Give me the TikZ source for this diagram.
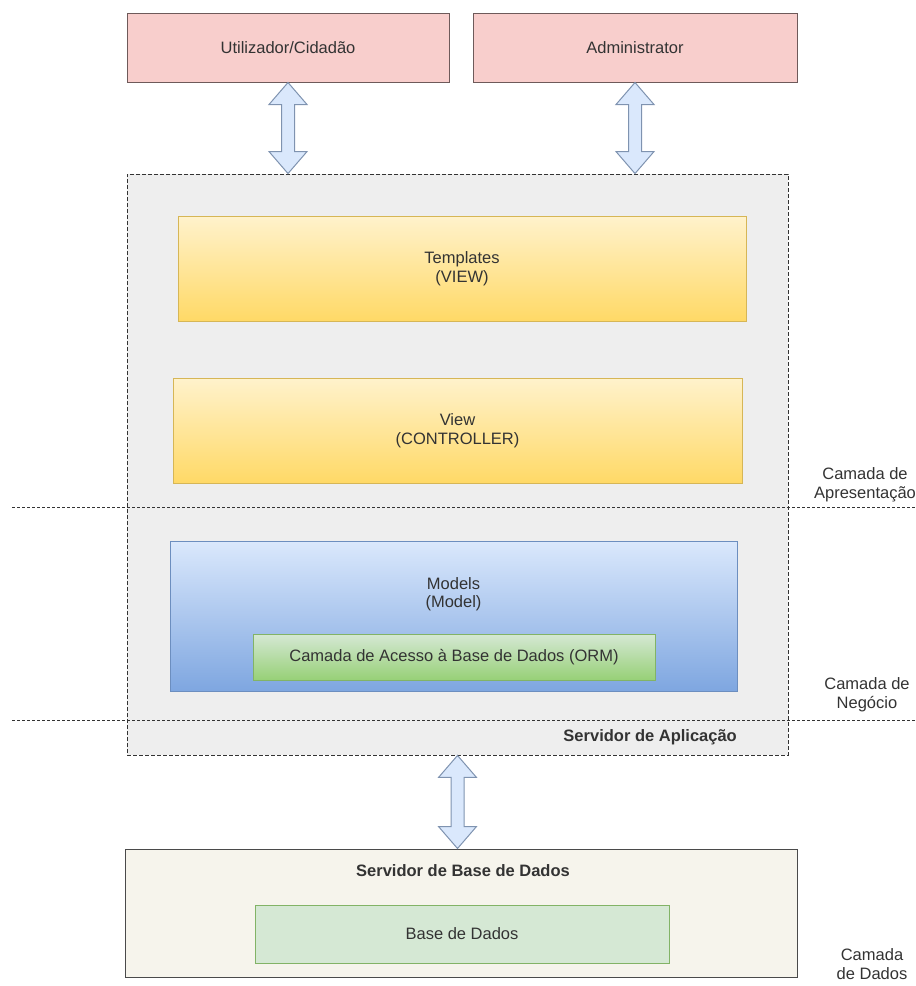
\documentclass[tikz,border=0pt]{standalone}
\usepackage{fontspec}
\setmainfont{Liberation Sans}
\usetikzlibrary{calc}

\definecolor{txt}{HTML}{333333}
\definecolor{pinkfill}{HTML}{F8CECC}
\definecolor{pinkline}{HTML}{6E5A5A}
\definecolor{arrowfill}{HTML}{DAE8FC}
\definecolor{arrowline}{HTML}{7F93B0}
\definecolor{appfill}{HTML}{EEEEEE}
\definecolor{ytop}{HTML}{FFF2CC}
\definecolor{ybot}{HTML}{FFD966}
\definecolor{yline}{HTML}{D6B656}
\definecolor{btop}{HTML}{DAE8FC}
\definecolor{bbot}{HTML}{7EA6E0}
\definecolor{bline}{HTML}{6C8EBF}
\definecolor{gtop}{HTML}{D5E8D4}
\definecolor{gbot}{HTML}{97D077}
\definecolor{gline}{HTML}{82B366}
\definecolor{dbfill}{HTML}{F6F4EC}
\definecolor{dbline}{HTML}{4A4A4A}

% vertical two-headed block arrow between two points on the same vertical
\newcommand\blockarrow[2]{%
  \draw[barrow] (#1) -- ($(#1)+(19,22)$) -- ($(#1)+(6.5,22)$)
    -- ($(#2)+(6.5,-22)$) -- ($(#2)+(19,-22)$) -- (#2)
    -- ($(#2)+(-19,-22)$) -- ($(#2)+(-6.5,-22)$)
    -- ($(#1)+(-6.5,22)$) -- ($(#1)+(-19,22)$) -- cycle;}

\begin{document}
\begin{tikzpicture}[x=1pt,y=-1pt,
  every node/.style={font=\fontsize{16.5}{18.5}\selectfont, text=txt, inner sep=0pt},
  actor/.style={draw=pinkline, fill=pinkfill, line width=1pt, align=center},
  appbox/.style={draw=txt, fill=appfill, line width=0.9pt, dash pattern=on 4pt off 2pt},
  yellowbox/.style={draw=yline, top color=ytop, bottom color=ybot, line width=1pt, align=center},
  bluebox/.style={draw=bline, top color=btop, bottom color=bbot, line width=1pt},
  greenbox/.style={draw=gline, top color=gtop, bottom color=gbot, line width=1pt},
  dbbox/.style={draw=dbline, fill=dbfill, line width=1pt},
  datastore/.style={draw=gline, fill=gtop, line width=1pt},
  barrow/.style={draw=arrowline, fill=arrowfill, line width=1pt, line join=miter},
  separator/.style={draw=txt, line width=0.9pt, dash pattern=on 3pt off 2pt},
  layer/.style={align=center},
  boldlabel/.style={font=\fontsize{16.5}{18.5}\selectfont\bfseries}]

\useasboundingbox (0,0) rectangle (916,986);

% actors
\node[actor, minimum width=322, minimum height=69] (user) at (288,47.5) {Utilizador/Cidadão};
\node[actor, minimum width=324, minimum height=69] (admin) at (635,47.5) {Administrator};

% application server
\node[appbox, minimum width=661, minimum height=581] (app) at (457.5,464.5) {};
\node[boldlabel, anchor=east] (applabel) at (737,737) {Servidor de Aplicação};

% layer separators
\coordinate (s1w) at (12,507);
\coordinate (s1e) at (916,507);
\coordinate (s2w) at (12,720);
\coordinate (s2e) at (916,720);
\draw[separator] (s1w) -- (s1e);
\draw[separator] (s2w) -- (s2e);

% MVC components
\node[yellowbox, minimum width=568, minimum height=105] (templates) at (462,268.5) {Templates\\(VIEW)};
\node[yellowbox, minimum width=569, minimum height=105] (view) at (457.5,430.5) {View\\(CONTROLLER)};
\node[bluebox, minimum width=567, minimum height=150] (models) at (453.5,616.5) {};
\node[align=center] (modelslabel) at (453.5,594) {Models\\(Model)};
\node[greenbox, minimum width=402, minimum height=46] (orm) at (454,657) {Camada de Acesso à Base de Dados (ORM)};

% database server
\node[dbbox, minimum width=672, minimum height=128] (dbserver) at (461,913) {};
\node[boldlabel] (dblabel) at (463,871) {Servidor de Base de Dados};
\node[datastore, minimum width=414, minimum height=58] (db) at (462,934) {Base de Dados};

% layer names
\node[layer] (lpres) at (865,485) {Camada de\\Apresentação};
\node[layer] (lneg) at (867,694.5) {Camada de\\Negócio};
\node[layer] (ldata) at (872,964) {Camada\\de Dados};

% connectors
\coordinate (a1) at (user.south |- app.north);
\coordinate (a2) at (admin.south |- app.north);
\coordinate (a3) at (app.south |- dbserver.north);
\blockarrow{user.south}{a1}
\blockarrow{admin.south}{a2}
\blockarrow{app.south}{a3}

\end{tikzpicture}
\end{document}
